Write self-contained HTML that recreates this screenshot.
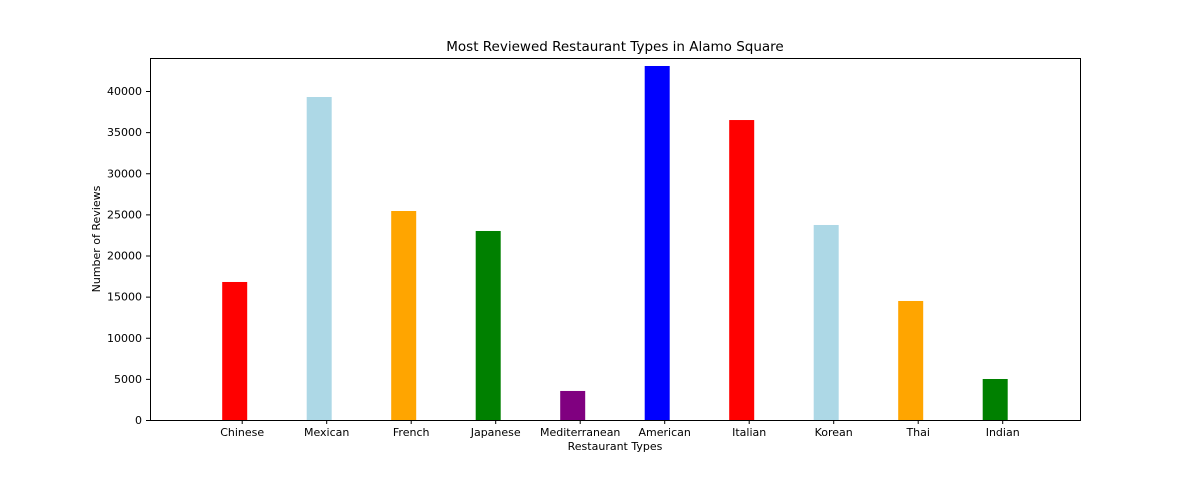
<!DOCTYPE html>
<html><head><meta charset="utf-8"><style>
body{margin:0;background:#fff;}
svg text{font-family:"DejaVu Sans","Liberation Sans",sans-serif;fill:#000;}
</style></head><body>
<svg id="chart" width="1200" height="480">
<text x="615" y="51" font-size="13.5" text-anchor="middle">Most Reviewed Restaurant Types in Alamo Square</text>
<g id="plot"></g>
<rect x="150.5" y="58.5" width="930" height="362" fill="none" stroke="#000" stroke-width="1"/>
<text x="615" y="450" font-size="11" text-anchor="middle">Restaurant Types</text>
<text transform="translate(100,239) rotate(-90)" font-size="11" text-anchor="middle">Number of Reviews</text>
</svg>
<script>
const categories=["Chinese","Mexican","French","Japanese","Mediterranean","American","Italian","Korean","Thai","Indian"];
const reviews=[16780,39270,25410,22980,3530,43040,36470,23710,14470,4985];
const colors=["red","lightblue","orange","green","purple","blue","red","lightblue","orange","green"];
const yTicks=[0,5000,10000,15000,20000,25000,30000,35000,40000];
const ns="http://www.w3.org/2000/svg";
const g=document.getElementById('plot');
function xScale(i){return 234.7+i*84.5;}
function yScale(v){return 420-v*(329/40000);}
const bw=25;
categories.forEach((c,i)=>{
  const r=document.createElementNS(ns,'rect');
  r.setAttribute('x',xScale(i)-bw/2);
  r.setAttribute('y',yScale(reviews[i]));
  r.setAttribute('width',bw);
  r.setAttribute('height',yScale(0)-yScale(reviews[i]));
  r.setAttribute('fill',colors[i]);
  
  
  g.appendChild(r);
  const tx=xScale(i)+7.5;
  const t=document.createElementNS(ns,'line');
  t.setAttribute('x1',tx);t.setAttribute('x2',tx);
  t.setAttribute('y1',420.5);t.setAttribute('y2',424);
  t.setAttribute('stroke','#000');
  
  
  g.appendChild(t);
  const l=document.createElementNS(ns,'text');
  l.setAttribute('x',tx);l.setAttribute('y',436);
  l.setAttribute('font-size','11');l.setAttribute('text-anchor','middle');
  l.textContent=c;
  
  
  g.appendChild(l);
});
yTicks.forEach(v=>{
  const y=yScale(v);
  const t=document.createElementNS(ns,'line');
  t.setAttribute('x1',146);t.setAttribute('x2',150.5);
  t.setAttribute('y1',y+0.5);t.setAttribute('y2',y+0.5);
  t.setAttribute('stroke','#000');
  
  
  g.appendChild(t);
  const l=document.createElementNS(ns,'text');
  l.setAttribute('x',142);l.setAttribute('y',y+4);
  l.setAttribute('font-size','11');l.setAttribute('text-anchor','end');
  l.textContent=v;
  
  
  g.appendChild(l);
});
</script>
</body></html>
